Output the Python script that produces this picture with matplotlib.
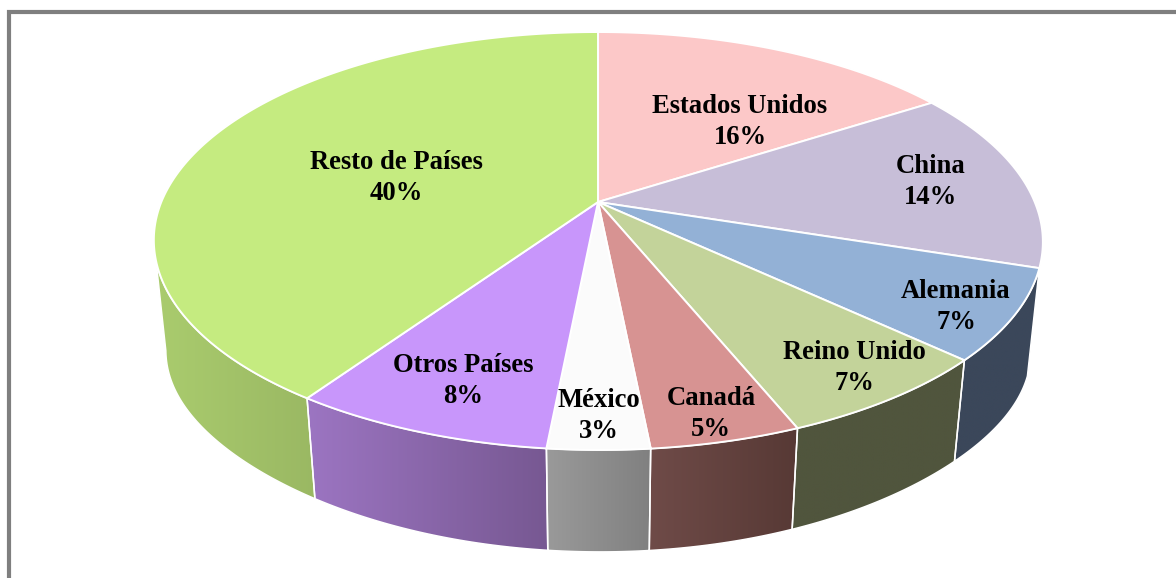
import numpy as np
import matplotlib
matplotlib.use("Agg")
import matplotlib.pyplot as plt
from matplotlib.colors import LinearSegmentedColormap
from matplotlib.patches import Polygon

# data, clockwise from 12 o'clock
names = ["Estados Unidos", "China", "Alemania", "Reino Unido", "Canadá", "México", "Otros Países", "Resto de Países"]
shares = [15.9, 14.1, 7.0, 6.9, 4.6, 3.1, 8.0, 40.4]
pct_labels = ["16%", "14%", "7%", "7%", "5%", "3%", "8%", "40%"]

top_colors = ["#FCC8C8", "#C7BED8", "#93B1D6", "#C3D39A", "#D79392", "#FBFBFB", "#C896FB", "#C5EB80"]
wall_left = ["#B08C8C", "#8C8598", "#3B475A", "#50553D", "#6F4B48", "#9A9A9A", "#9C75C2", "#AACC6E"]
wall_right = ["#B08C8C", "#8C8598", "#3B475A", "#50553D", "#573935", "#808080", "#775892", "#9AB863"]

# label centres in pixels
label_x = [740, 931, 956, 854, 711, 599, 463, 396]
label_y = [122, 182, 307, 368, 414, 416, 381, 178]

# fake 3d: unit circle seen in perspective, apex at (cx, cy)
cx, cy = 598, 202
A, B, k = 436.7, 201.7, 0.1866
shear = 0.009
shrink = 0.973
depth = 92
stretch = 1.04
side_drop = 18
# wall is only visible between the two side extremes of the ellipse
wall_from = np.arccos(-k)
wall_to = 2 * np.pi - wall_from


def project(theta, bottom=False):
    u, v = np.sin(theta), np.cos(theta)
    d = 1 + k * v
    x, y = A * u / d, -B * v / d
    x = x + shear * np.maximum(y, 0)
    if bottom:
        # lower rim hangs a bit further down towards the sides
        return cx + shrink * x, cy + stretch * y + depth + side_drop * u**6
    return cx + x, cy + y


fig = plt.figure(figsize=(11.76, 5.78), dpi=100)
ax = fig.add_axes([0, 0, 1, 1])
ax.axis("off")

# frame, only top and left are in the picture
ax.plot([9, 9, 1176], [578, 12, 12], color="#7F7F7F", lw=3, solid_joinstyle="miter", zorder=1)

edges = np.concatenate([[0], np.cumsum(shares)]) / sum(shares) * 2 * np.pi

# side walls first, tops are drawn over them
for i in range(len(shares)):
    t0 = max(edges[i], wall_from)
    t1 = min(edges[i + 1], wall_to)
    # china would only give a sliver here
    if t1 - t0 < 0.15:
        continue
    t = np.linspace(t0, t1, 120)
    xt, yt = project(t)
    xb, yb = project(t, bottom=True)
    pts = np.column_stack([np.r_[xt, xb[::-1]], np.r_[yt, yb[::-1]]])
    poly = Polygon(pts, closed=True, fc="none", ec="none", zorder=2)
    ax.add_patch(poly)
    cmap = LinearSegmentedColormap.from_list("w", [wall_left[i], wall_right[i]])
    img = ax.imshow(np.linspace(0, 1, 256).reshape(1, -1), cmap=cmap,
                    extent=[pts[:, 0].min(), pts[:, 0].max(), pts[:, 1].max(), pts[:, 1].min()],
                    aspect="auto", zorder=2, interpolation="bilinear")
    img.set_clip_path(poly)
    ax.add_patch(Polygon(pts, closed=True, fc="none", ec="white", lw=1.1, zorder=3))

# top surface
for i in range(len(shares)):
    t = np.linspace(edges[i], edges[i + 1], 200)
    xt, yt = project(t)
    pts = np.column_stack([np.r_[cx, xt], np.r_[cy, yt]])
    ax.add_patch(Polygon(pts, closed=True, fc=top_colors[i], ec="white", lw=1.4, zorder=4))

for name, pct, x, y in zip(names, pct_labels, label_x, label_y):
    ax.text(x, y, name + "\n" + pct, ha="center", va="center", family="Liberation Serif",
            fontweight="bold", fontsize=19.2, linespacing=1.32, color="black", zorder=5)

ax.set_xlim(0, 1176)
ax.set_ylim(578, 0)

fig.savefig("out.png", dpi=100, facecolor="white")
